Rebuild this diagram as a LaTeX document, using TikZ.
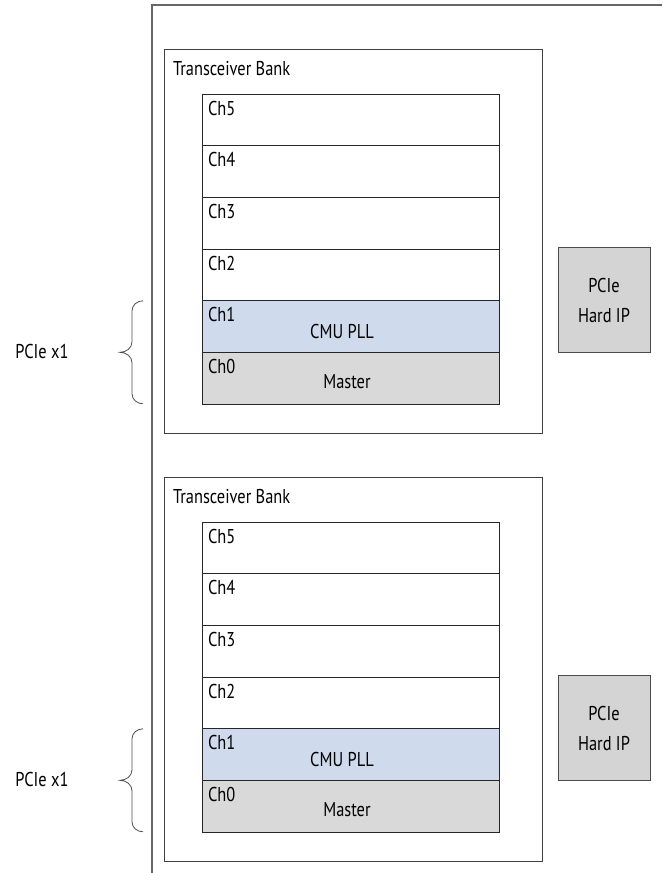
\documentclass[tikz,border=0pt]{standalone}
\usepackage{fontspec}
\setmainfont[FakeStretch=0.82]{PT Sans}
\usetikzlibrary{positioning}
\definecolor{pllblue}{RGB}{207,218,236}
\definecolor{mastergray}{RGB}{217,217,217}
\definecolor{ipgray}{RGB}{212,212,212}
\tikzset{
  x=1pt, y=-1pt, % pixel like units, y grows downwards
  every node/.style={font=\fontsize{20}{24}\selectfont, inner sep=0pt, outer sep=0pt},
  bank/.style={draw=black!75, line width=1pt, minimum width=378pt,
    minimum height=384pt, anchor=north west},
  chan/.style={draw=black!85, line width=1pt, fill=white, minimum width=297pt,
    minimum height=51.7pt},
  chlbl/.style={anchor=base west}, % the Ch0..Ch5 names
  hardip/.style={draw=black!70, line width=1pt, fill=ipgray, minimum width=92pt,
    minimum height=105pt, align=center, font=\fontsize{20}{30}\selectfont},
  pcbrace/.style={draw=black!70, line width=0.8pt},
}
\begin{document}
\begin{tikzpicture}
  \useasboundingbox (0,0) rectangle (662,873);

  % device edge
  \draw[black!60, line width=1.4pt] (152,873) -- (152,5) -- (662,5);

  \foreach \b/\yo in {1/0, 2/428}{
    \begin{scope}[shift={(0,\yo)}]
      \node[bank] (bank\b) at (164,49) {};
      \node[chlbl] (bank\b lbl) at ([xshift=9pt, yshift=-26pt]bank\b.north west)
        {Transceiver Bank};

      \node[chan, anchor=north west] (b\b ch5) at (202,94) {};
      \node[chan, below=0pt of b\b ch5] (b\b ch4) {};
      \node[chan, below=0pt of b\b ch4] (b\b ch3) {};
      \node[chan, below=0pt of b\b ch3] (b\b ch2) {};
      \node[chan, fill=pllblue, below=0pt of b\b ch2] (b\b ch1) {};
      \node[chan, fill=mastergray, below=0pt of b\b ch1] (b\b ch0) {};
      \foreach \c in {0,...,5}
        \node[chlbl] (b\b ch\c lbl) at ([xshift=6pt, yshift=-21pt]b\b ch\c.north west) {Ch\c};

      \node[anchor=base] (b\b pll) at (342,338) {CMU PLL};
      \node[anchor=base] (b\b master) at (347,388) {Master};

      \node[hardip] (hip\b) at (604,300) {PCIe\\Hard IP};

      % x1 link spans Ch0 and Ch1
      \coordinate (br\b) at ([xshift=-59pt]b\b ch1.north west);
      \draw[pcbrace] (br\b) to[out=180, in=90] ++(-11,10) -- ++(0,31)
        to[out=-90, in=0] ++(-12,10.5) to[out=0, in=90] ++(12,10.5)
        -- ++(0,31) to[out=-90, in=180] ++(11,10);
      \node[anchor=base] (x1\b) at (42,358) {PCIe x1};
    \end{scope}
  }
\end{tikzpicture}
\end{document}
